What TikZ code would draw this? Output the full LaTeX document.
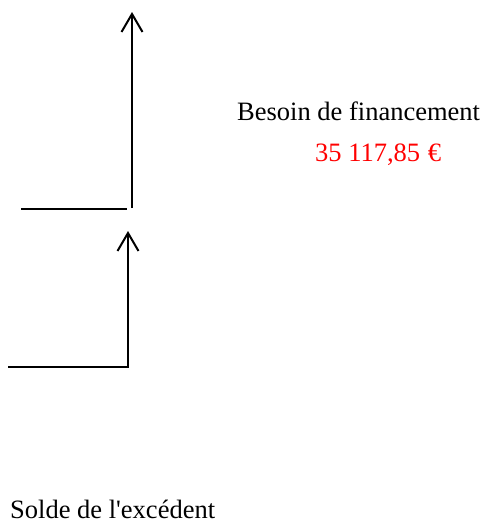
\documentclass[tikz,border=0pt]{standalone}
\usepackage{fontspec}
\setmainfont{Liberation Serif}
\usetikzlibrary{arrows.meta}
\begin{document}
\begin{tikzpicture}[x=1pt,y=-1pt,
  conn/.style={line width=2pt},
  arr/.style={conn,-{Straight Barb[length=18pt,width=21pt,line width=2pt]}},
  lbl/.style={inner sep=0pt,anchor=base west,text depth=0pt,font=\fontsize{26.5}{30}\selectfont}]
\useasboundingbox (0,0) rectangle (483,525);
% upper step
\coordinate (u1) at (21,209);
\coordinate (u2) at (127,209);
\coordinate (u3) at (132,208);
\coordinate (u4) at (132,12);
\draw[conn] (u1) -- (u2);
\draw[arr] (u3) -- (u4);
% lower step
\coordinate (l1) at (8,367);
\coordinate (l2) at (128,367);
\coordinate (l3) at (128,231);
\draw[arr] (l1) -- (l2) -- (l3);
% labels
\node[lbl] (besoin) at (237,120) {Besoin de financement};
\node[lbl,text=red] (montant) at (315,161) {35 117,85\hspace{1pt} €};
\node[lbl] (solde) at (10,518) {Solde de l\textquotesingle excédent};
\end{tikzpicture}
\end{document}
